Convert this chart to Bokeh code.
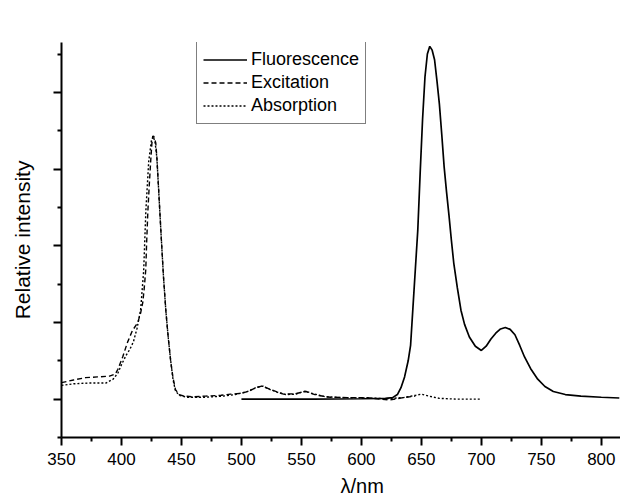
from bokeh.plotting import figure
from bokeh.models import FixedTicker, Range1d, Legend, LegendItem, CustomJSTickFormatter, Title
from bokeh.embed import file_html
from bokeh.resources import INLINE

# ---------------- data ----------------
fluor_nm = [500, 560, 600, 620, 626, 630, 633, 636, 639, 641, 643, 645, 647, 649, 651, 653,
            655, 657, 659, 661, 663, 665, 667, 669, 671, 673, 675, 677, 680, 683, 686, 690,
            695, 700, 704, 708, 712, 716, 720, 724, 728, 732, 736, 741, 747, 753, 760, 770,
            783, 800, 815]
fluor_val = [0.000, 0.000, 0.001, 0.002, 0.004, 0.012, 0.030, 0.058, 0.100, 0.140, 0.240, 0.340,
             0.440, 0.590, 0.730, 0.840, 0.900, 0.920, 0.910, 0.885, 0.830, 0.770, 0.690, 0.605,
             0.540, 0.480, 0.415, 0.355, 0.290, 0.232, 0.195, 0.162, 0.138, 0.127, 0.138, 0.157,
             0.172, 0.183, 0.187, 0.182, 0.168, 0.140, 0.110, 0.080, 0.052, 0.033, 0.020, 0.012,
             0.008, 0.005, 0.003]

exc_nm = [350, 360, 370, 380, 390, 395, 397, 401, 405, 409, 413.6, 416, 417.75, 419, 420.25,
          421, 422, 423.2, 424.4, 425.3, 426.1, 427, 428.6, 429.5, 431, 433, 435, 437, 439, 441,
          443, 445, 448, 452, 460, 470, 483, 491, 500, 507, 512, 517, 522, 527, 535, 545, 550,
          554, 558, 563, 574, 590, 605, 616, 624, 635, 645]
exc_val = [0.043, 0.050, 0.056, 0.058, 0.060, 0.066, 0.078, 0.110, 0.148, 0.178, 0.200, 0.225,
           0.252, 0.290, 0.338, 0.410, 0.490, 0.560, 0.623, 0.665, 0.686, 0.685, 0.668, 0.630,
           0.545, 0.430, 0.320, 0.230, 0.160, 0.100, 0.055, 0.025, 0.012, 0.008, 0.006, 0.008,
           0.010, 0.013, 0.015, 0.022, 0.030, 0.034, 0.028, 0.022, 0.013, 0.014, 0.018, 0.020,
           0.015, 0.010, 0.005, 0.004, 0.004, 0.000, -0.002, 0.004, 0.008]

abs_nm = [350, 360, 373, 387, 393, 397, 400, 404, 407, 410, 413, 416, 418.5, 420.3, 422.7, 425,
          426.5, 428, 429.5, 431, 433, 435, 437, 439, 441, 443, 445, 448, 455, 470, 485, 495,
          505, 512, 518, 524, 530, 537, 545, 553, 560, 570, 585, 605, 620, 635, 645, 650, 656,
          665, 680, 700]
abs_val = [0.036, 0.040, 0.042, 0.042, 0.052, 0.068, 0.090, 0.115, 0.130, 0.150, 0.185, 0.234,
           0.335, 0.490, 0.620, 0.675, 0.685, 0.670, 0.630, 0.545, 0.430, 0.320, 0.230, 0.160,
           0.100, 0.050, 0.022, 0.010, 0.005, 0.005, 0.008, 0.012, 0.020, 0.030, 0.034, 0.025,
           0.018, 0.012, 0.013, 0.021, 0.014, 0.006, 0.004, 0.003, 0.001, 0.004, 0.010, 0.013,
           0.008, 0.002, 0.000, 0.000]

x_major = [350, 400, 450, 500, 550, 600, 650, 700, 750, 800]
x_minor = [375, 425, 475, 525, 575, 625, 675, 725, 775]
y_major = [0.0, 0.2, 0.4, 0.6, 0.8]
y_minor = [-0.1, 0.1, 0.3, 0.5, 0.7, 0.9]

series_names = ["Fluorescence", "Excitation", "Absorption"]
x_title = "λ/nm"
y_title = "Relative intensity"

SANS = "'Liberation Sans', Arial, sans-serif"

p = figure(width=620, height=501, output_backend="svg", toolbar_location=None,
           x_range=Range1d(350, 816), y_range=Range1d(-0.1, 0.93),
           min_border_left=61, min_border_right=0, min_border_top=42, min_border_bottom=62)
p.outline_line_color = None
p.background_fill_color = "white"
p.border_fill_color = "white"
p.xgrid.visible = False
p.ygrid.visible = False

r_f = p.line(fluor_nm, fluor_val, line_color="black", line_width=1.7)
r_e = p.line(exc_nm, exc_val, line_color="black", line_width=1.4, line_dash="5 3")
r_a = p.line(abs_nm, abs_val, line_color="black", line_width=1.4, line_dash="2 2")

for ax in (p.xaxis[0], p.yaxis[0]):
    ax.axis_line_width = 2
    ax.major_tick_line_width = 2
    ax.minor_tick_line_width = 2
    ax.major_tick_in = 0
    ax.minor_tick_in = 0
    ax.major_tick_out = 8
    ax.minor_tick_out = 4
    ax.axis_line_color = "black"
    ax.major_tick_line_color = "black"
    ax.minor_tick_line_color = "black"

p.xaxis.ticker = FixedTicker(ticks=x_major, minor_ticks=x_minor)
p.xaxis.major_label_text_font = SANS
p.xaxis.major_label_text_font_size = "17px"
p.xaxis.major_label_text_color = "black"
p.xaxis.major_label_standoff = 7

p.yaxis.ticker = FixedTicker(ticks=y_major, minor_ticks=y_minor)
p.yaxis.formatter = CustomJSTickFormatter(code="return ''")
p.yaxis.major_label_standoff = 0
p.yaxis.axis_label = y_title
p.yaxis.axis_label_text_font = SANS
p.yaxis.axis_label_text_font_size = "21px"
p.yaxis.axis_label_text_font_style = "normal"
p.yaxis.axis_label_text_color = "black"
p.yaxis.axis_label_standoff = 20

xt = Title(text=x_title, align="left", offset=279, standoff=10,
           text_font=SANS, text_font_size="20px", text_font_style="normal", text_color="black")
p.add_layout(xt, "below")

legend = Legend(items=[LegendItem(label=series_names[0], renderers=[r_f]),
                       LegendItem(label=series_names[1], renderers=[r_e]),
                       LegendItem(label=series_names[2], renderers=[r_a])],
                location=(135, 313), orientation="vertical")
legend.border_line_color = "black"
legend.border_line_width = 1.5
legend.background_fill_color = "white"
legend.background_fill_alpha = 1
legend.padding = 6
legend.spacing = 0
legend.margin = 0
legend.glyph_width = 44
legend.glyph_height = 23
legend.label_height = 23
legend.label_standoff = 4
legend.label_text_font = SANS
legend.label_text_font_size = "18px"
legend.label_text_color = "black"
p.add_layout(legend, "center")

open("out.html", "w").write(file_html(p, INLINE))
